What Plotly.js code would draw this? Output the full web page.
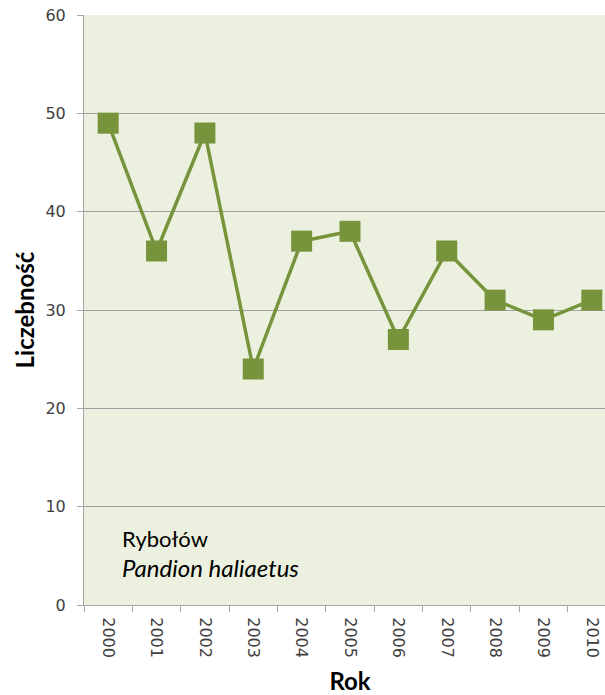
<!DOCTYPE html>
<html>
<head>
<meta charset="utf-8">
<script src="https://cdn.plot.ly/plotly-3.0.1.min.js"></script>
<style>html,body{margin:0;padding:0;overflow:hidden;background:#fff;}#chart{width:620px;height:695px;}</style>
</head>
<body>
<div id="chart"></div>
<script>
const years = ["2000","2001","2002","2003","2004","2005","2006","2007","2008","2009","2010"];
const counts = [49, 36, 48, 24, 37, 38, 27, 36, 31, 29, 31];
const yTicks = [0, 10, 20, 30, 40, 50, 60];
const speciesPl = "Rybołów";
const speciesLat = "Pandion haliaetus";

const green = "#77933C";
const trace = {
  x: years, y: counts, type: "scatter", mode: "lines+markers",
  line: {color: green, width: 3.5},
  marker: {symbol: "square", size: 21, color: green},
  hoverinfo: "skip"
};
const layout = {
  width: 620, height: 695,
  margin: {l: 84, r: 4, t: 15, b: 90},
  paper_bgcolor: "#ffffff",
  plot_bgcolor: "#EBF1DE",
  showlegend: false,
  font: {family: "DejaVu Sans", color: "#404040", size: 16},
  xaxis: {
    type: "category", range: [-0.5, 10.5],
    tickson: "boundaries", ticks: "outside", ticklen: 6, tickcolor: "#A6A6A6",
    tickangle: 90, showgrid: false, showline: true, linecolor: "#A6A6A6", linewidth: 1,
    ticklabelstandoff: 8,
    tickfont: {family: "DejaVu Sans", size: 16, color: "#404040"},
    title: {text: "Rok", font: {family: "Lato", size: 24, color: "#000000", weight: "bold"}, standoff: 16}
  },
  yaxis: {
    range: [0, 60], tickvals: yTicks, ticktext: yTicks.map(String),
    ticks: "outside", ticklen: 6, tickcolor: "#A6A6A6",
    showgrid: true, gridcolor: "#A0A0A0", gridwidth: 1,
    showline: true, linecolor: "#A6A6A6", linewidth: 1, zeroline: false,
    ticklabelstandoff: 8,
    tickfont: {family: "DejaVu Sans", size: 16, color: "#404040"},
    title: {text: "Liczebność", font: {family: "Lato", size: 24, color: "#000000", weight: "bold"}, standoff: 4}
  },
  annotations: [
    {xref: "paper", yref: "paper", x: 0.068, y: 0.112, xanchor: "left", yanchor: "middle",
     text: speciesPl, showarrow: false, font: {family: "Lato", size: 22, color: "#000000"}},
    {xref: "paper", yref: "paper", x: 0.068, y: 0.064, xanchor: "left", yanchor: "middle",
     text: "<i>" + speciesLat + "</i>", showarrow: false, font: {family: "Lato", size: 24, color: "#000000"}}
  ]
};
Plotly.newPlot("chart", [trace], layout, {staticPlot: true, displayModeBar: false});
</script>
</body>
</html>
